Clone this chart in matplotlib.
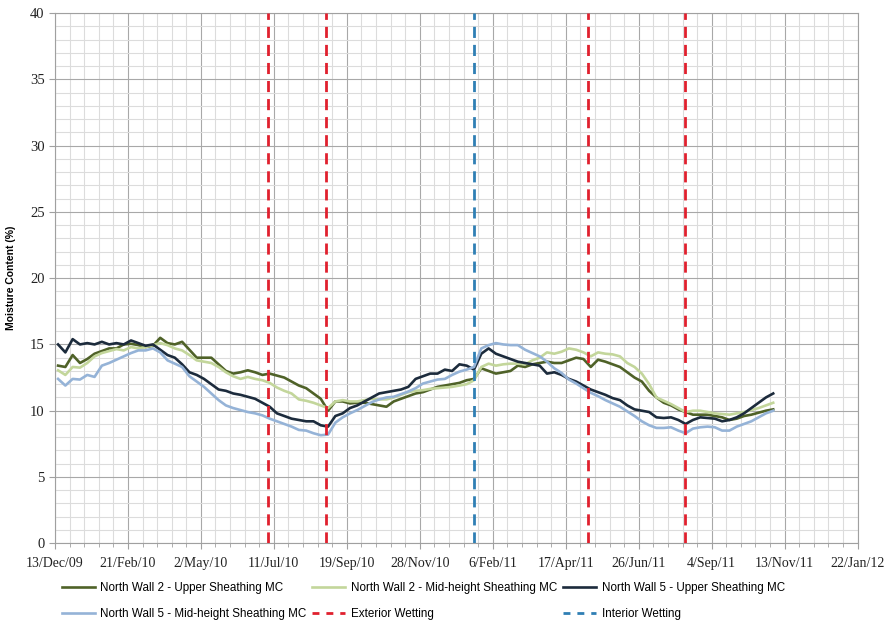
import numpy as np
import pandas as pd
import matplotlib
matplotlib.use("Agg")
import matplotlib.pyplot as plt
import matplotlib.dates as mdates
from matplotlib.lines import Line2D

plt.rcParams['font.family'] = ['Liberation Sans', 'DejaVu Sans']

# weekly readings, first one on 16 Dec 2009
dates = pd.date_range('2009-12-16', periods=99, freq='7D')

nw2_upper = [13.4, 13.3, 14.2, 13.6, 13.9, 14.3, 14.5, 14.7, 14.7, 15.0,
             15.05, 14.95, 14.8, 14.9, 15.5, 15.1, 15.0, 15.2, 14.6, 14.0,
             14.0, 14.0, 13.5, 13.0, 12.8, 12.9, 13.05, 12.9, 12.7, 12.8,
             12.65, 12.5, 12.2, 11.9, 11.7, 11.3, 10.9, 10.0, 10.7, 10.7,
             10.55, 10.6, 10.6, 10.5, 10.4, 10.3, 10.7, 10.9, 11.1, 11.3,
             11.4, 11.6, 11.8, 11.9, 12.0, 12.1, 12.3, 12.4, 13.2, 13.0,
             12.8, 12.9, 13.0, 13.4, 13.3, 13.5, 13.6, 13.7, 13.6, 13.6,
             13.8, 14.0, 13.9, 13.3, 13.85, 13.7, 13.5, 13.3, 12.9, 12.5,
             12.2, 11.5, 11.0, 10.6, 10.4, 10.1, 9.9, 9.7, 9.7, 9.7,
             9.6, 9.5, 9.3, 9.4, 9.6, 9.7, 9.85, 10.0, 10.1]

nw2_mid = [13.05, 12.7, 13.3, 13.25, 13.6, 14.1, 14.35, 14.5, 14.65, 14.55,
           14.8, 14.7, 14.8, 14.95, 15.1, 14.95, 14.7, 14.55, 14.2, 13.8,
           13.7, 13.6, 13.3, 12.9, 12.6, 12.4, 12.55, 12.4, 12.3, 12.1,
           11.75, 11.5, 11.3, 10.85, 10.75, 10.6, 10.4, 10.2, 10.7, 10.8,
           10.7, 10.7, 10.8, 10.9, 10.85, 10.85, 11.0, 11.2, 11.4, 11.5,
           11.55, 11.65, 11.7, 11.75, 11.8, 11.9, 12.0, 12.3, 13.3, 13.55,
           13.4, 13.5, 13.55, 13.55, 13.5, 13.8, 14.0, 14.4, 14.3, 14.45,
           14.7, 14.6, 14.4, 14.1, 14.4, 14.3, 14.25, 14.1, 13.6, 13.3,
           12.8, 12.0, 11.0, 10.75, 10.5, 10.2, 9.9, 10.0, 10.0, 9.9,
           9.8, 9.75, 9.7, 9.8, 9.9, 10.05, 10.2, 10.4, 10.6]

nw5_upper = [15.0, 14.4, 15.4, 15.0, 15.1, 15.0, 15.2, 15.0, 15.1, 15.0,
             15.3, 15.1, 14.9, 15.0, 14.6, 14.2, 14.0, 13.5, 12.9, 12.7,
             12.4, 12.0, 11.6, 11.5, 11.3, 11.2, 11.05, 10.9, 10.6, 10.3,
             9.8, 9.6, 9.4, 9.3, 9.2, 9.2, 8.9, 8.8, 9.6, 9.8,
             10.2, 10.4, 10.7, 11.0, 11.3, 11.4, 11.5, 11.6, 11.8, 12.4,
             12.6, 12.8, 12.8, 13.1, 13.0, 13.5, 13.4, 13.1, 14.3, 14.7,
             14.3, 14.1, 13.9, 13.7, 13.6, 13.5, 13.4, 12.8, 12.9, 12.7,
             12.4, 12.2, 11.9, 11.6, 11.4, 11.2, 10.95, 10.8, 10.4, 10.1,
             10.0, 9.9, 9.5, 9.45, 9.5, 9.3, 9.0, 9.3, 9.5, 9.45,
             9.4, 9.2, 9.3, 9.5, 9.8, 10.2, 10.6, 11.0, 11.3]

nw5_mid = [12.4, 11.9, 12.4, 12.35, 12.7, 12.55, 13.4, 13.6, 13.85, 14.1,
           14.35, 14.55, 14.55, 14.7, 14.4, 13.8, 13.55, 13.3, 12.6, 12.2,
           11.8, 11.3, 10.8, 10.4, 10.2, 10.05, 9.9, 9.8, 9.65, 9.4,
           9.2, 9.0, 8.8, 8.55, 8.5, 8.3, 8.15, 8.2, 9.1, 9.5,
           9.8, 10.05, 10.35, 10.65, 10.85, 11.0, 11.05, 11.25, 11.45, 11.7,
           12.05, 12.2, 12.35, 12.4, 12.7, 12.95, 13.1, 13.3, 14.7, 14.95,
           15.1, 15.0, 14.95, 14.95, 14.6, 14.35, 14.1, 13.7, 13.2, 12.85,
           12.35, 12.05, 11.7, 11.35, 11.1, 10.8, 10.55, 10.3, 9.95, 9.6,
           9.2, 8.9, 8.7, 8.7, 8.75, 8.5, 8.3, 8.65, 8.75, 8.8,
           8.75, 8.5, 8.5, 8.8, 9.0, 9.2, 9.5, 9.8, 10.0]

exterior_wetting = ['2010-07-05', '2010-08-30', '2011-05-08', '2011-08-09']
interior_wetting = ['2011-01-19']

series_names = ['North Wall 2 - Upper Sheathing MC',
                'North Wall 2 - Mid-height Sheathing MC',
                'North Wall 5 - Upper Sheathing MC',
                'North Wall 5 - Mid-height Sheathing MC']
series_colors = ['#4f6228', '#c3d69b', '#1c2b3c', '#95b3d7']

fig = plt.figure(figsize=(8.86, 6.23), dpi=100)
ax = fig.add_axes([0.062, 0.128, 0.906, 0.851])

handles = []
for vals, name, col in zip([nw2_upper, nw2_mid, nw5_upper, nw5_mid], series_names, series_colors):
    h, = ax.plot(dates, vals, color=col, lw=1.9, label=name, zorder=3)
    handles.append(h)

for d in exterior_wetting:
    ax.axvline(pd.Timestamp(d), color='#e0202e', lw=2.0, ls=(0, (4, 2.5)), zorder=4)
for d in interior_wetting:
    ax.axvline(pd.Timestamp(d), color='#2f7fb4', lw=2.0, ls=(0, (4, 2.5)), zorder=4)

start = pd.Timestamp('2009-12-13')
end = pd.Timestamp('2012-01-22')
ax.set_xlim(start, end)
ax.set_ylim(0, 40)

ax.set_xticks(pd.date_range(start, end, freq='70D'))
ax.set_xticks(pd.date_range(start, end, freq='14D'), minor=True)
ax.xaxis.set_major_formatter(mdates.DateFormatter('%-d/%b/%y'))
ax.set_yticks(np.arange(0, 41, 5))
ax.set_yticks(np.arange(0, 41, 1), minor=True)

ax.grid(which='minor', color='#dcdcdc', lw=0.8)
ax.grid(which='major', color='#a8a8a8', lw=0.8)
ax.set_axisbelow(True)
for s in ax.spines.values():
    s.set_color('#a0a0a0')
    s.set_linewidth(0.8)

ax.tick_params(axis='x', which='both', direction='out', colors='#a0a0a0',
               labelcolor='#222222', labelsize=10, pad=6)
ax.tick_params(axis='x', which='major', length=4)
ax.tick_params(axis='x', which='minor', length=3)
ax.tick_params(axis='y', which='major', direction='out', length=4, colors='#a0a0a0',
               labelcolor='#222222', labelsize=10.5)
ax.tick_params(axis='y', which='minor', length=0)
for lab in ax.get_xticklabels() + ax.get_yticklabels():
    lab.set_family(['Liberation Serif', 'DejaVu Serif'])

ax.set_ylabel('Moisture Content (%)', fontsize=7.5, fontweight='bold', labelpad=10)

ext_h = Line2D([], [], color='#e0202e', lw=2.0, ls=(0, (2.5, 2.5)))
int_h = Line2D([], [], color='#2f7fb4', lw=2.0, ls=(0, (2.5, 2.5)))
order = [handles[0], handles[3], handles[1], ext_h, handles[2], int_h]
labels = [series_names[0], series_names[3], series_names[1],
          'Exterior Wetting', series_names[2], 'Interior Wetting']
fig.legend(order, labels, ncol=3, loc='upper left', bbox_to_anchor=(0.058, 0.083),
           frameon=False, fontsize=8.4, handlelength=2.8, columnspacing=0.5,
           handletextpad=0.5, labelspacing=1.2)

fig.savefig('out.png', dpi=100)
